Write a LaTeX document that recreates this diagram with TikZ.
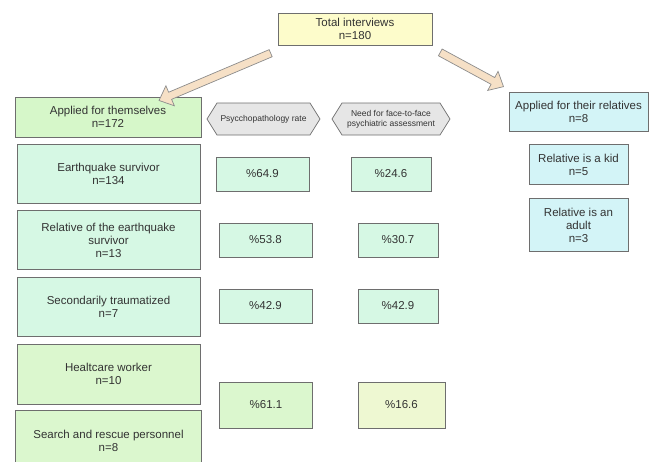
\documentclass[tikz,border=0pt]{standalone}
\usepackage{fontspec}
\setmainfont{Liberation Sans}
\usepackage{tikz}
\usetikzlibrary{positioning, calc}
\usetikzlibrary{shapes.symbols, shapes.arrows}

\definecolor{totalfill}{HTML}{FDFCCB}
\definecolor{selffill}{HTML}{D6F7C9}
\definecolor{mintfill}{HTML}{D6F8E4}
\definecolor{greenfill}{HTML}{DBF7CE}
\definecolor{limefill}{HTML}{EEF8D2}
\definecolor{cyanfill}{HTML}{D3F4F7}
\definecolor{hexfill}{HTML}{E6E6E6}
\definecolor{arrowfill}{HTML}{F6E0C6}
\definecolor{edgegray}{HTML}{6E6E6E}

\begin{document}
\begin{tikzpicture}[x=1pt,y=-1pt,
  box/.style={draw=edgegray,line width=0.7pt,align=center,inner sep=1pt,text=black!80,font=\fontsize{11.5}{13}\selectfont},
  rowbox/.style={box,fill=mintfill,minimum width=183pt,minimum height=59pt},
  ratebox/.style={box,fill=mintfill,minimum width=93pt,minimum height=34pt},
  needbox/.style={box,fill=mintfill,minimum width=80pt,minimum height=34pt},
  relbox/.style={box,fill=cyanfill,minimum width=99pt},
  hexhead/.style={draw=edgegray,line width=0.7pt,fill=hexfill,signal,signal to=west and east,signal pointer angle=116,
    align=center,inner sep=1pt,text=black!80,font=\fontsize{8.5}{10}\selectfont,minimum height=32pt},
  bigarrow/.style={single arrow,draw=black!45,fill=arrowfill,line width=0.7pt,inner sep=3.5pt,
    single arrow head extend=7pt,single arrow tip angle=84}]

\clip (0,0) rectangle (651,461);

% top
\node[box,fill=totalfill,minimum width=154pt,minimum height=32pt] (total) at (355,29) {Total interviews\\n=180};

% left side
\node[box,fill=selffill,minimum width=186pt,minimum height=40pt] (self) at (108,117) {Applied for themselves\\n=172};
\node[hexhead,minimum width=113pt] (psyhead)  at (263.5,119) {Psycchopathology rate};
\node[hexhead,minimum width=118pt] (needhead) at (391,119) {Need for face-to-face\\psychiatric assessment};

\node[rowbox] (survivor) at (108.5,173.5) {Earthquake survivor\\n=134};
\node[rowbox] (relative) [below=7pt of survivor] {Relative of the earthquake\\survivor\\n=13};
\node[rowbox] (secondary) [below=7pt of relative] {Secondarily traumatized\\n=7};
\node[rowbox,fill=greenfill,minimum height=60pt] (health) [below=7pt of secondary] {Healtcare worker\\n=10};
\node[rowbox,fill=greenfill,minimum width=186pt,minimum height=60pt] (rescue) [below=6pt of health] {Search and rescue personnel\\n=8};

\node[ratebox] (rate1) at (262.5,174) {\%64.9};
\node[needbox] (need1) at (391,174) {\%24.6};
\node[ratebox] (rate2) at (265.5,240) {\%53.8};
\node[needbox] (need2) at (398,240) {\%30.7};
\node[ratebox] (rate3) at (265.5,306) {\%42.9};
\node[needbox] (need3) at (398,306) {\%42.9};
\node[ratebox,fill=greenfill,minimum height=46pt] (rate4) at (266,405) {\%61.1};
\node[needbox,fill=limefill,minimum width=87pt,minimum height=46pt] (need4) at (401.5,405) {\%16.6};

% right side
\node[box,fill=cyanfill,minimum width=139pt,minimum height=39pt] (others) at (578.5,111.5) {Applied for their relatives\\n=8};
\node[relbox,minimum height=40pt] (kid) [below=13pt of others] {Relative is a kid\\n=5};
\node[relbox,minimum height=53pt] (adult) [below=13pt of kid] {Relative is an\\adult\\n=3};

% block arrows
\coordinate (ltail) at ($(total.south west)+(-5,7)$);
\coordinate (ltip)  at ($(self.north)+(53,3)$);
\coordinate (rtail) at ($(total.south east)+(6,6)$);
\coordinate (rtip)  at ($(others.north west)+(-7,-6)$);

\path let \p1=($(ltip)-(ltail)$), \n1={atan2(\y1,\x1)}, \n2={veclen(\x1,\y1)} in
  node[bigarrow,minimum height=\n2,rotate=\n1] at ($(ltail)!0.5!(ltip)$) {};
\path let \p1=($(rtip)-(rtail)$), \n1={atan2(\y1,\x1)}, \n2={veclen(\x1,\y1)} in
  node[bigarrow,minimum height=\n2,rotate=\n1] at ($(rtail)!0.5!(rtip)$) {};
\end{tikzpicture}
\end{document}
